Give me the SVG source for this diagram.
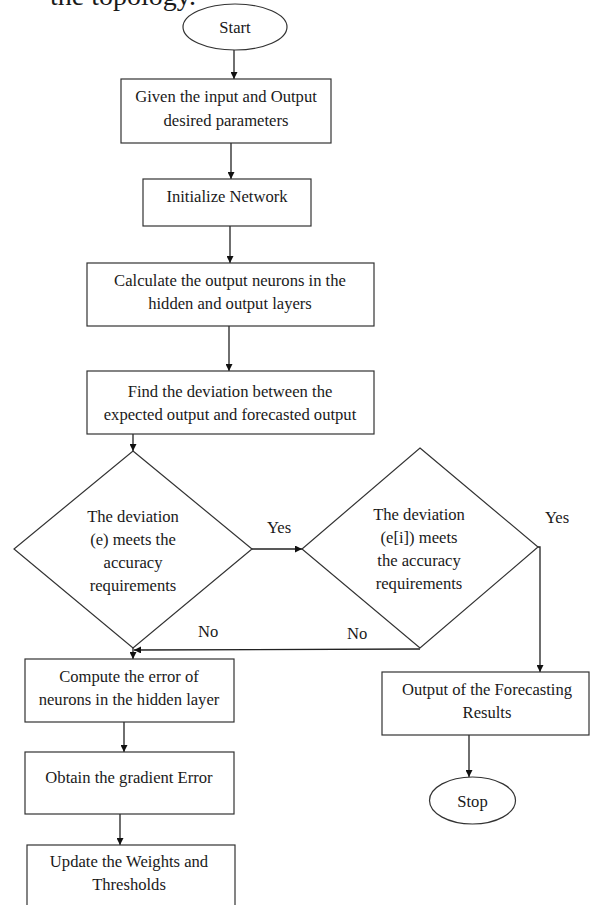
<svg xmlns="http://www.w3.org/2000/svg" width="590" height="905" viewBox="0 0 590 905">
<style>
.s{fill:#fff;stroke:#333;stroke-width:1.2}
.t{font-family:"Liberation Serif","Times New Roman",serif;font-size:16.6px;fill:#1a1a1a;text-anchor:middle}
.l{font-family:"Liberation Serif","Times New Roman",serif;font-size:16.6px;fill:#1a1a1a}
.c{fill:none;stroke:#222;stroke-width:1.3}
</style>
<defs>
<marker id="a" viewBox="0 0 10 10" refX="10" refY="5" markerWidth="7" markerHeight="7" markerUnits="userSpaceOnUse" orient="auto">
<path d="M0,0L10,5L0,10z" fill="#111"/>
</marker>
</defs>
<rect width="590" height="905" fill="#fff"/>
<text x="50" y="5" font-family="Liberation Serif,serif" font-size="28" fill="#1a1a1a">the topology.</text>
<g id="connectors">
<line class="c" x1="234" y1="50" x2="234" y2="79" marker-end="url(#a)"/>
<line class="c" x1="231" y1="143" x2="231" y2="179" marker-end="url(#a)"/>
<line class="c" x1="230" y1="226" x2="230" y2="263" marker-end="url(#a)"/>
<line class="c" x1="229" y1="326" x2="229" y2="371" marker-end="url(#a)"/>
<line class="c" x1="133" y1="434" x2="133" y2="451" marker-end="url(#a)"/>
<line class="c" x1="252" y1="549" x2="302" y2="549" marker-end="url(#a)"/>
<polyline class="c" points="538,547 540,547 540,672" marker-end="url(#a)"/>
<line class="c" x1="420" y1="649" x2="134" y2="650" marker-end="url(#a)"/>
<line class="c" x1="133" y1="648" x2="133" y2="659" marker-end="url(#a)"/>
<line class="c" x1="124" y1="722" x2="124" y2="752" marker-end="url(#a)"/>
<line class="c" x1="120" y1="814" x2="120" y2="845" marker-end="url(#a)"/>
<line class="c" x1="469" y1="735" x2="469" y2="777" marker-end="url(#a)"/>
</g>
<g id="start"><ellipse class="s" cx="235" cy="27" rx="52" ry="23"/><text class="t" x="235" y="33">Start</text></g>
<g id="given"><rect class="s" x="121" y="79" width="210" height="64"/><text class="t" x="226" y="102">Given the input and Output</text><text class="t" x="226" y="126">desired parameters</text></g>
<g id="init"><rect class="s" x="143" y="179" width="168" height="47"/><text class="t" x="227" y="202">Initialize Network</text></g>
<g id="calc"><rect class="s" x="87" y="263" width="287" height="63"/><text class="t" x="230" y="286">Calculate the output neurons in the</text><text class="t" x="230" y="309">hidden and output layers</text></g>
<g id="find"><rect class="s" x="87" y="371" width="287" height="63"/><text class="t" x="230" y="397">Find the deviation between the</text><text class="t" x="230" y="420">expected output and forecasted output</text></g>
<g id="dec1"><polygon class="s" points="133,451 252,549 133,648 14,549"/><text class="t" x="133" y="522">The deviation</text><text class="t" x="133" y="545">(e) meets the</text><text class="t" x="133" y="568">accuracy</text><text class="t" x="133" y="591">requirements</text></g>
<g id="dec2"><polygon class="s" points="420,448 538,547 420,648 302,549"/><text class="t" x="419" y="520">The deviation</text><text class="t" x="419" y="543">(e[i]) meets</text><text class="t" x="419" y="566">the accuracy</text><text class="t" x="419" y="589">requirements</text></g>
<g id="labels">
<text class="l" x="267" y="533">Yes</text>
<text class="l" x="545" y="523">Yes</text>
<text class="l" x="198" y="637">No</text>
<text class="l" x="347" y="639">No</text>
</g>
<g id="compute"><rect class="s" x="25" y="659" width="209" height="63"/><text class="t" x="129" y="682">Compute the error of</text><text class="t" x="129" y="705">neurons  in the hidden layer</text></g>
<g id="grad"><rect class="s" x="25" y="752" width="209" height="62"/><text class="t" x="129" y="783">Obtain the gradient Error</text></g>
<g id="update"><rect class="s" x="27" y="845" width="208" height="80"/><text class="t" x="129" y="867">Update the Weights and</text><text class="t" x="129" y="890">Thresholds</text></g>
<g id="output"><rect class="s" x="382" y="672" width="207" height="63"/><text class="t" x="487" y="695">Output of the Forecasting</text><text class="t" x="487" y="718">Results</text></g>
<g id="stop"><ellipse class="s" cx="472.5" cy="800.5" rx="43" ry="23.5"/><text class="t" x="472.5" y="807">Stop</text></g>
</svg>
